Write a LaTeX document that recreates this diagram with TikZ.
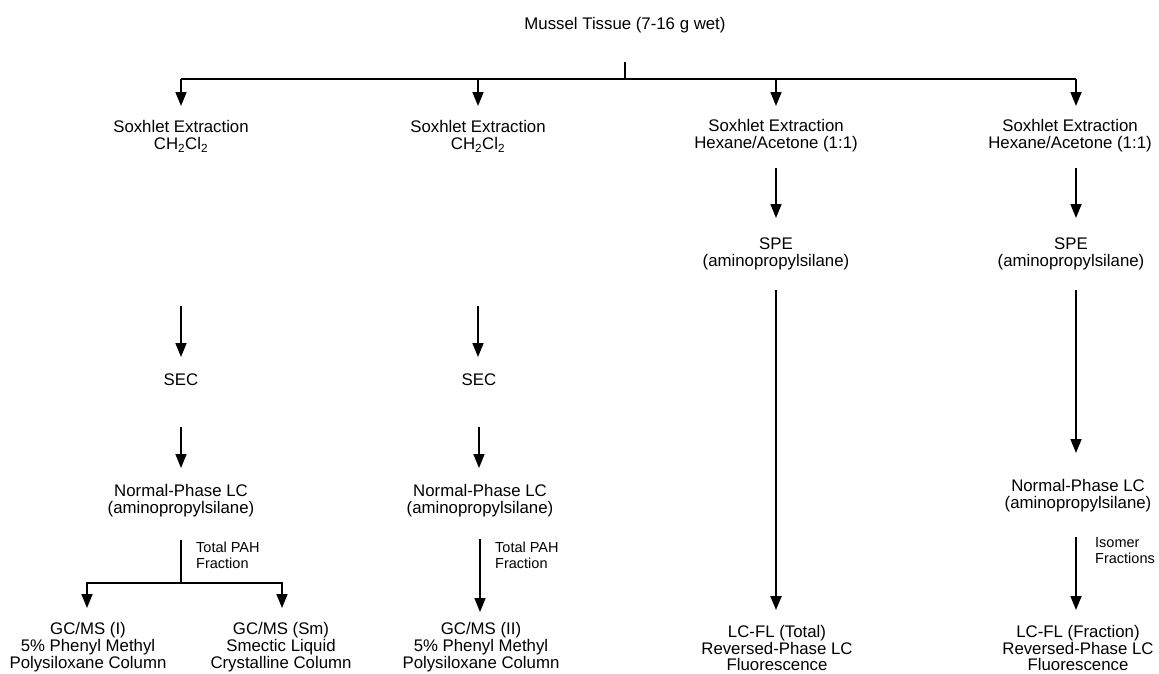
\documentclass[tikz,border=0pt]{standalone}
\usepackage{fontspec}
\setmainfont{Liberation Sans}
\usetikzlibrary{arrows.meta}
\begin{document}
\begin{tikzpicture}[x=1pt,y=-1pt,
  txt/.style={inner sep=0pt, align=center, font=\fontsize{16.8}{16.8}\selectfont},
  lbl/.style={inner sep=0pt, align=left, anchor=west, font=\fontsize{14.5}{16}\selectfont},
  ln/.style={line width=1.7pt},
  arr/.style={line width=1.7pt, -{Triangle[length=14pt,width=11pt]}}
]
\useasboundingbox (0,0) rectangle (1159,673);

% title and distribution line
\node[txt] (title) at (625,25) {Mussel Tissue (7-16 g wet)};
\coordinate (hub) at (625,79);
\coordinate (t1) at (181,79);
\coordinate (t2) at (478,79);
\coordinate (t3) at (776,79);
\coordinate (t4) at (1076,79);

% column 1
\node[txt] (sox1) at (181,136.5) {Soxhlet Extraction\\CH\textsubscript{2}Cl\textsubscript{2}};
\node[txt] (sec1) at (181,380) {SEC};
\node[txt] (npl1) at (181,500.5) {Normal-Phase LC\\(aminopropylsilane)};
\coordinate (split1) at (181,583);
\node[txt] (gc1) at (88,647) {GC/MS (I)\\5\% Phenyl Methyl\\Polysiloxane Column};
\node[txt] (gc2) at (281,647) {GC/MS (Sm)\\Smectic Liquid\\Crystalline Column};
\node[lbl] (tp1) at (196,555) {Total PAH\\Fraction};

% column 2
\node[txt] (sox2) at (478,136.5) {Soxhlet Extraction\\CH\textsubscript{2}Cl\textsubscript{2}};
\node[txt] (sec2) at (479,380) {SEC};
\node[txt] (npl2) at (480,500.5) {Normal-Phase LC\\(aminopropylsilane)};
\node[txt] (gc3) at (481,647) {GC/MS (II)\\5\% Phenyl Methyl\\Polysiloxane Column};
\node[lbl] (tp2) at (495,555) {Total PAH\\Fraction};

% column 3
\node[txt] (sox3) at (776,136) {Soxhlet Extraction\\Hexane/Acetone (1:1)};
\node[txt] (spe3) at (776,253.5) {SPE\\(aminopropylsilane)};
\node[txt] (lc3) at (777,648) {LC-FL (Total)\\Reversed-Phase LC\\Fluorescence};

% column 4
\node[txt] (sox4) at (1070,136) {Soxhlet Extraction\\Hexane/Acetone (1:1)};
\node[txt] (spe4) at (1071,253.5) {SPE\\(aminopropylsilane)};
\node[txt] (npl4) at (1078,496) {Normal-Phase LC\\(aminopropylsilane)};
\node[txt] (lc4) at (1078,648) {LC-FL (Fraction)\\Reversed-Phase LC\\Fluorescence};
\node[lbl] (iso) at (1095,551) {Isomer\\Fractions};

% connectors: top
\draw[ln, shorten <=37pt] (title.center) -- (hub);
\draw[ln] (t1) -- (t4);
\draw[arr, shorten >=30.5pt] (t1) -- (t1 |- sox1.center);
\draw[arr, shorten >=30.5pt] (t2) -- (t2 |- sox2.center);
\draw[arr, shorten >=30pt] (t3) -- (t3 |- sox3.center);
\draw[arr, shorten >=30pt] (t4) -- (t4 |- sox4.center);

% column 1 connectors
\draw[arr, shorten <=169.5pt, shorten >=23pt] (sox1.center) -- (sec1.center);
\draw[arr, shorten <=47pt, shorten >=32.5pt] (sec1.center) -- (npl1.center);
\draw[ln, shorten <=39.5pt] (npl1.center) -- (split1);
\draw[arr, shorten >=39pt] (split1) -| ([xshift=-1pt]gc1.center);
\draw[arr, shorten >=39pt] (split1) -| ([xshift=1pt]gc2.center);

% column 2 connectors
\draw[arr, shorten <=169.5pt, shorten >=23pt] (sox2.center) -- (sox2.center |- sec2.center);
\draw[arr, shorten <=47pt, shorten >=32.5pt] (sec2.center) -- (sec2.center |- npl2.center);
\draw[arr, shorten <=38.5pt, shorten >=35pt] (npl2.center) -- (npl2.center |- gc3.center);

% column 3 connectors
\draw[arr, shorten <=32pt, shorten >=35.5pt] (sox3.center) -- (spe3.center);
\draw[arr, line width=2.3pt, shorten <=36.5pt, shorten >=38pt] (spe3.center) -- (spe3.center |- lc3.center);

% column 4 connectors
\draw[arr, shorten <=32pt, shorten >=35.5pt] (sox4.center -| t4) -- (spe4.center -| t4);
\draw[arr, shorten <=36.5pt, shorten >=43pt] (spe4.center -| t4) -- (npl4.center -| t4);
\draw[arr, shorten <=41pt, shorten >=38pt] (npl4.center -| t4) -- (lc4.center -| t4);
\end{tikzpicture}
\end{document}
